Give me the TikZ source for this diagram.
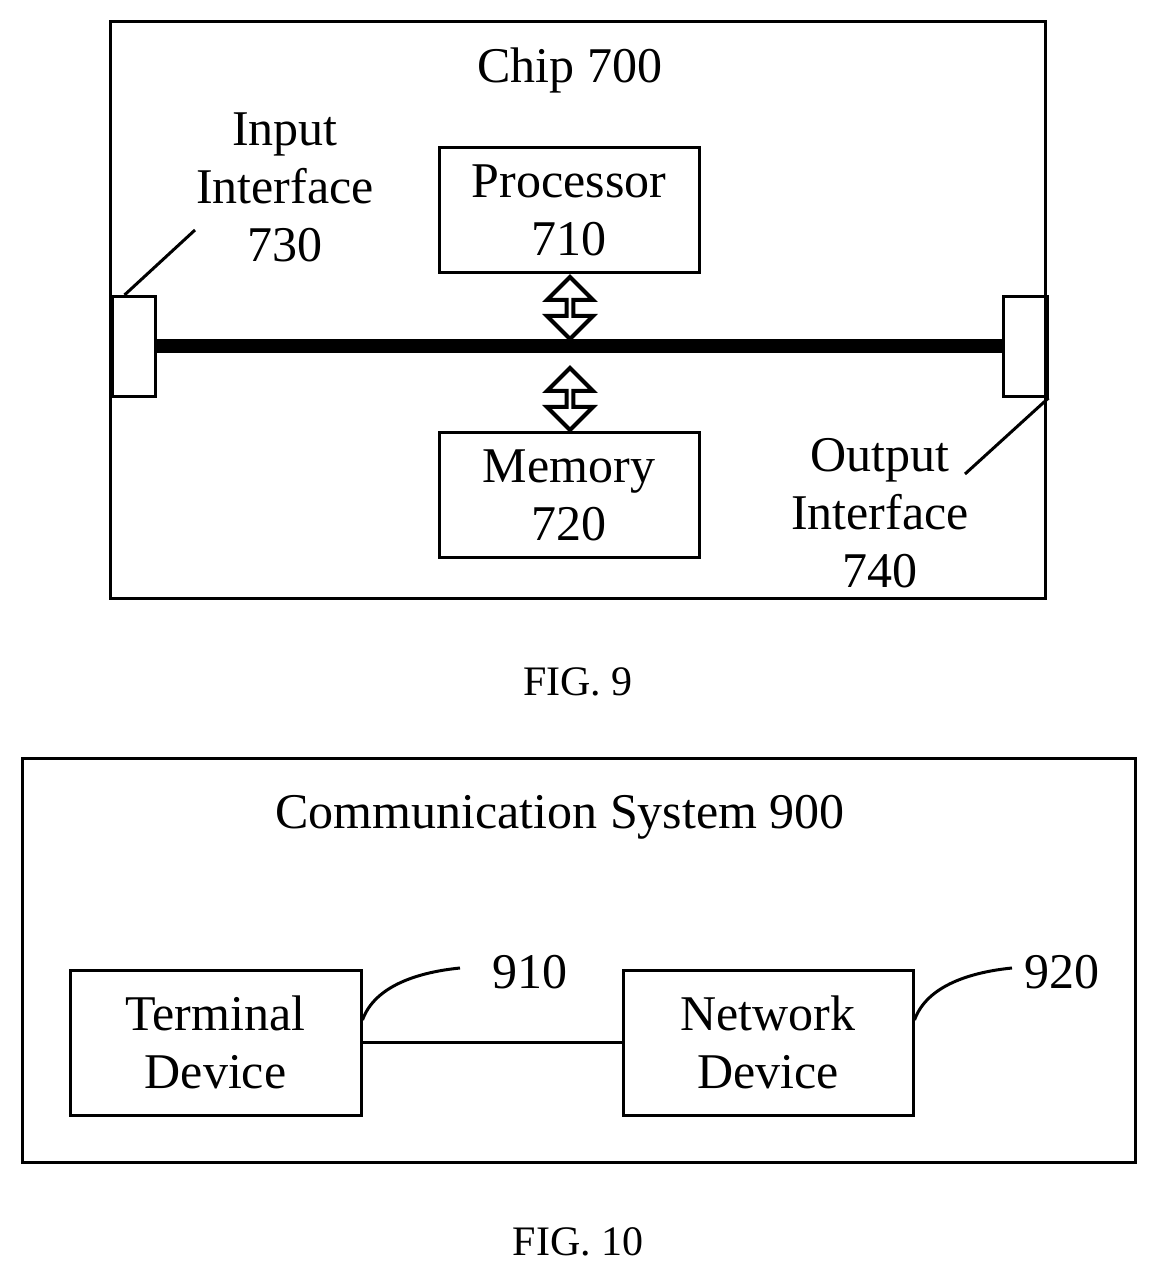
\documentclass[tikz,border=0pt]{standalone}
\usepackage{fontspec}
\setmainfont{Liberation Serif}
\usetikzlibrary{shapes.arrows}
\begin{document}
\begin{tikzpicture}[x=0.5pt,y=-0.5pt,
  box/.style={draw,line width=1.5pt},
  lbl/.style={font=\fontsize{25}{29}\selectfont,align=center},
  figcap/.style={font=\fontsize{21}{25}\selectfont},
  darr/.style={draw,line width=2pt,double arrow,shape border rotate=90,minimum height=31pt,minimum width=23pt,double arrow head extend=6pt,inner sep=0pt,double arrow head indent=0pt}]
\useasboundingbox (0,0) rectangle (1156,1277);
\draw[box] (110,22) rectangle (1045,598);
\node[lbl] (chip) at (570,70) {Chip 700};
\node[box,lbl,minimum width=130pt,minimum height=62.5pt] (proc) at (569,210) {Processor\\710};
\node[box,lbl,minimum width=130pt,minimum height=62.5pt] (mem) at (569,495) {Memory\\720};
\node[box,minimum width=21.5pt,minimum height=50pt,inner sep=0pt] (in) at (133.5,346.5) {};
\node[box,minimum width=22pt,minimum height=50pt,inner sep=0pt] (out) at (1025,346.5) {};
\draw[line width=7pt] (in.east) -- (out.west);
\node[darr] (a1) at (570,308) {};
\node[darr] (a2) at (570,399) {};
\coordinate (l1) at (195,230);
\draw[line width=1.5pt] (in.north west) ++(14,0) coordinate (p1) -- (l1);
\node[lbl] (inl) at (285,187) {Input\\Interface\\730};
\coordinate (l2) at (965,474);
\draw[line width=1.5pt] (out.south east) -- (l2);
\node[lbl] (outl) at (880,513) {Output\\Interface\\740};
\node[figcap] (fig9) at (578,682) {FIG. 9};
\draw[box] (22,758) rectangle (1135,1162);
\node[lbl] (sys) at (560,817) {Communication System 900};
\node[box,lbl,minimum width=145.5pt,minimum height=72.5pt] (term) at (215.5,1042.5) {Terminal\\Device};
\node[box,lbl,minimum width=145pt,minimum height=72.5pt] (net) at (768,1042.5) {Network\\Device};
\draw[line width=1.5pt] (term) -- (net);
\coordinate (c1) at (460,968);
\coordinate (c2) at (1012,968);
\draw[line width=1.5pt] (term.east|-0,1020) .. controls (375,985) and (420,972) .. (c1);
\draw[line width=1.5pt] (net.east|-0,1020) .. controls (927,985) and (972,972) .. (c2);
\node[lbl] (n910) at (530,972) {910};
\node[lbl] (n920) at (1062,972) {920};
\node[figcap] (fig10) at (578,1242) {FIG. 10};
\end{tikzpicture}
\end{document}
